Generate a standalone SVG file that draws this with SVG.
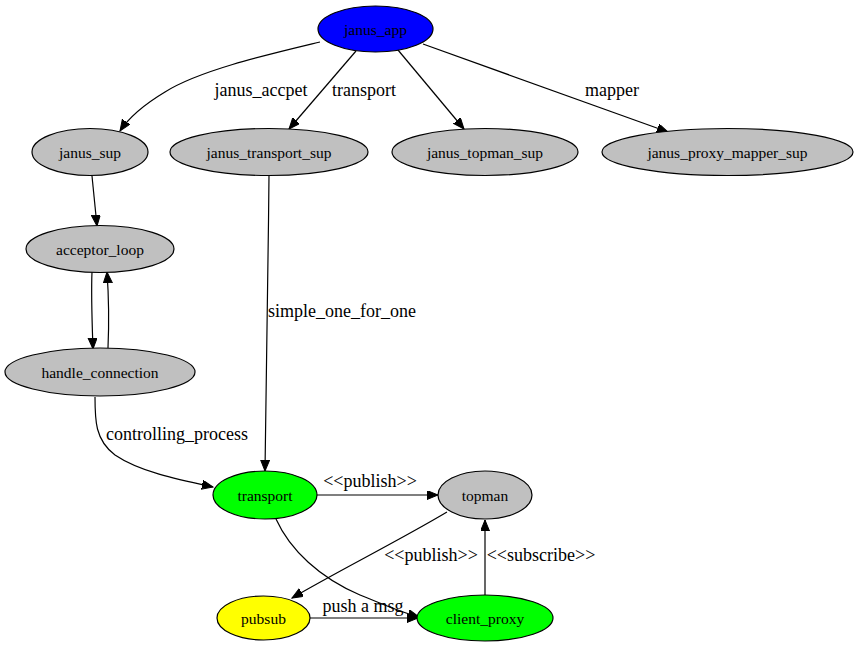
<svg xmlns="http://www.w3.org/2000/svg" width="856" height="648" viewBox="0 0 856 648">
<style>
.n ellipse{stroke:#000;stroke-width:1.2}
.n text{font-family:'Liberation Serif','Times New Roman','DejaVu Serif',serif;font-size:15.5px;text-anchor:middle;dominant-baseline:central}
.e path{fill:none;stroke:#000;stroke-width:1.2;marker-end:url(#ah)}
.e text{font-family:'Liberation Serif','Times New Roman','DejaVu Serif',serif;font-size:18px;text-anchor:middle}
</style>
<defs>
<marker id="ah" markerUnits="userSpaceOnUse" markerWidth="12" markerHeight="10" refX="11" refY="4.5" orient="auto">
<path d="M0,0 L11,4.5 L0,9 z" fill="#000" stroke="#000"/>
</marker>
</defs>
<rect width="856" height="648" fill="#fff"/>
<g class="e" id="edges">
<path d="M320,42 C270,54 200,70 165,92 C145,104 130,116 120,131"/>
<text x="261" y="96">janus_accpet</text>
<path d="M356,51 L289,129"/>
<text x="364" y="96">transport</text>
<path d="M398,50 L464,129"/>
<path d="M423,44 L668,132"/>
<text x="612" y="96">mapper</text>
<path d="M92,176 L97,226"/>
<path d="M92,272 C91,295 92,320 93,349"/>
<path d="M108,348 C109,325 109,300 107,272"/>
<path d="M269,175 C268,280 266,390 265,471"/>
<text x="342" y="317">simple_one_for_one</text>
<path d="M95,397 C95,420 95,440 115,455 C140,472 180,480 213,487"/>
<text x="177" y="440">controlling_process</text>
<path d="M317,495 L438,495"/>
<text x="370" y="487">&lt;&lt;publish&gt;&gt;</text>
<path d="M447,512 C400,540 340,570 292,598"/>
<text x="431" y="561">&lt;&lt;publish&gt;&gt;</text>
<path d="M485,595 L485,520"/>
<text x="541" y="561">&lt;&lt;subscribe&gt;&gt;</text>
<path d="M276,519 C290,550 320,578 360,595 C385,605 400,612 419,617"/>
<path d="M310,618 L418,618"/>
<text x="363" y="612">push a msg</text>
</g>
<g class="n" id="janus_app"><ellipse cx="375.5" cy="29" rx="57.5" ry="23" fill="#0000ff"/><text x="375.5" y="29">janus_app</text></g>
<g class="n" id="janus_sup"><ellipse cx="90" cy="152" rx="58" ry="23.5" fill="#c0c0c0"/><text x="90" y="152">janus_sup</text></g>
<g class="n" id="janus_transport_sup"><ellipse cx="269" cy="152" rx="99" ry="23.5" fill="#c0c0c0"/><text x="269" y="152">janus_transport_sup</text></g>
<g class="n" id="janus_topman_sup"><ellipse cx="485" cy="152" rx="93" ry="23.5" fill="#c0c0c0"/><text x="485" y="152">janus_topman_sup</text></g>
<g class="n" id="janus_proxy_mapper_sup"><ellipse cx="727.5" cy="152" rx="125.5" ry="23.5" fill="#c0c0c0"/><text x="727.5" y="152">janus_proxy_mapper_sup</text></g>
<g class="n" id="acceptor_loop"><ellipse cx="100" cy="249" rx="74" ry="23.5" fill="#c0c0c0"/><text x="100" y="249">acceptor_loop</text></g>
<g class="n" id="handle_connection"><ellipse cx="100" cy="372" rx="95" ry="24" fill="#c0c0c0"/><text x="100" y="372">handle_connection</text></g>
<g class="n" id="transport"><ellipse cx="265" cy="495" rx="52" ry="24" fill="#00ff00"/><text x="265" y="495">transport</text></g>
<g class="n" id="topman"><ellipse cx="485" cy="495" rx="47" ry="24" fill="#c0c0c0"/><text x="485" y="495">topman</text></g>
<g class="n" id="pubsub"><ellipse cx="263.5" cy="618" rx="46.5" ry="22" fill="#ffff00"/><text x="263.5" y="618">pubsub</text></g>
<g class="n" id="client_proxy"><ellipse cx="485" cy="618" rx="68" ry="23" fill="#00ff00"/><text x="485" y="618">client_proxy</text></g>
</svg>
